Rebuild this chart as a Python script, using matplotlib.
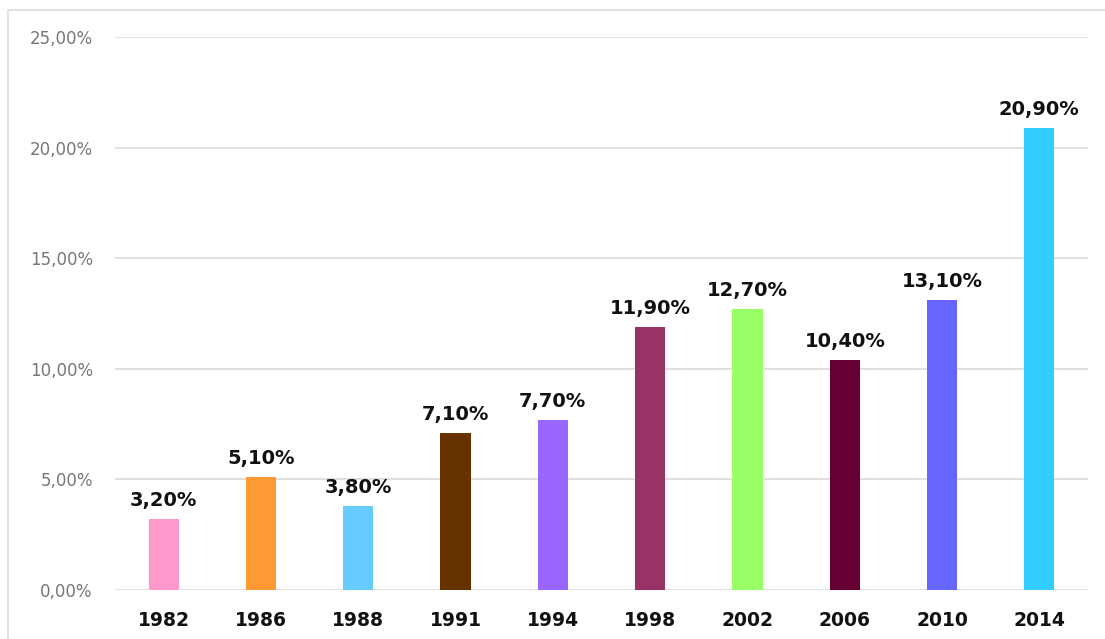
import matplotlib.pyplot as plt
from matplotlib.patches import Rectangle

# === Data ===
years = ['1982', '1986', '1988', '1991', '1994', '1998', '2002', '2006', '2010', '2014']
values = [3.2, 5.1, 3.8, 7.1, 7.7, 11.9, 12.7, 10.4, 13.1, 20.9]
colors = ['#FF99CC', '#FF9933', '#66CCFF', '#663300', '#9966FF',
          '#993366', '#99FF66', '#660033', '#6666FF', '#33CCFF']
y_ticks = [0, 5, 10, 15, 20, 25]


def pct(v):
    return f"{v:.2f}".replace('.', ',') + '%'


fig = plt.figure(figsize=(11.05, 6.39), dpi=100)
# light frame around the chart area
fig.patches.append(Rectangle((8 / 1105, -0.1), 1.2, 1 - 10 / 639 + 0.1,
                             transform=fig.transFigure, fill=False,
                             edgecolor='#DDDDDD', linewidth=1.2))

ax = fig.add_axes([115 / 1105, 1 - 590 / 639, (1088 - 115) / 1105, (590 - 37) / 639])
x = range(len(years))
bars = ax.bar(x, values, width=0.31, color=colors, zorder=3)

for xi, v in zip(x, values):
    ax.text(xi, v + 0.4, pct(v), ha='center', va='bottom',
            fontsize=14, fontweight='bold', color='#111111')

ax.set_xlim(-0.5, len(years) - 0.5)
ax.set_ylim(0, 25)
ax.set_yticks(y_ticks)
ax.set_yticklabels([pct(t) for t in y_ticks], fontsize=12, color='#777777')
ax.set_xticks(list(x))
ax.set_xticklabels(years, fontsize=13.5, fontweight='bold', color='#111111')
ax.tick_params(axis='y', length=0, pad=16)
ax.tick_params(axis='x', length=0, pad=15)
ax.grid(axis='y', color='#DADADA', linewidth=1.2, zorder=0)
for s in ax.spines.values():
    s.set_visible(False)

fig.savefig('out.png', dpi=100)
